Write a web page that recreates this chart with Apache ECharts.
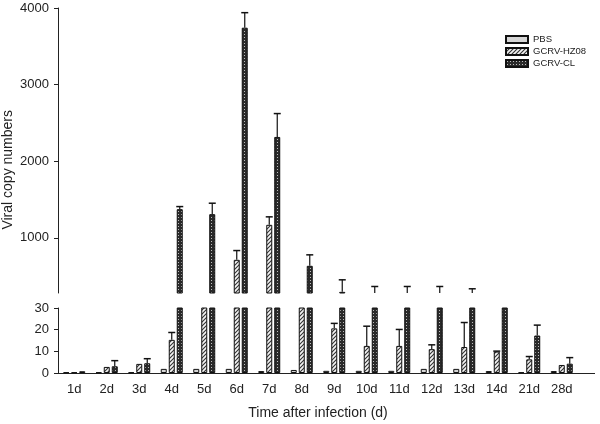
<!DOCTYPE html>
<html><head><meta charset="utf-8">
<script src="https://cdn.jsdelivr.net/npm/echarts@6/dist/echarts.min.js"></script>
<style>html,body{margin:0;padding:0;background:#fff}#c{width:600px;height:424px}</style>
</head><body><div id="c"></div>
<script>
const categories = ['1d','2d','3d','4d','5d','6d','7d','8d','9d','10d','11d','12d','13d','14d','21d','28d'];
const seriesNames = ['PBS','GCRV-HZ08','GCRV-CL'];
const pbsValues = [0.3,0.3,0.3,1.9,1.9,1.9,0.9,1.4,1.0,1.0,1.0,1.9,1.9,0.9,0.3,0.9];
const pbsErrors = [0,0,0,0,0,0,0,0,0,0,0,0,0,0,0,0];
const hzValues  = [0.3,2.8,4.2,15.3,150,713,1170,100,20.6,12.5,12.5,11,12,9.9,6.3,3.7];
const hzErrors  = [0,0,0,3.4,0,121,104,0,2.3,9.1,7.6,2,11.3,0.2,1.3,0];
const clValues  = [0.8,3.1,4.5,1374,1309,3743,2317,635,295,200,200,210,190,150,17.3,4.3];
const clErrors  = [0,2.6,2.1,34,143,196,305,143,157,165,165,155,145,0,4.8,2.8];
const upperTicks = [1000,2000,3000,4000];
const lowerTicks = [0,10,20,30];

function makePattern(kind){
  const c = document.createElement('canvas');
  if(kind==='hatch'){
    c.width=4;c.height=4;const g=c.getContext('2d');
    g.fillStyle='#f4f4f4';g.fillRect(0,0,4,4);
    g.strokeStyle='#333';g.lineWidth=1.1;
    g.beginPath();g.moveTo(0,4);g.lineTo(4,0);g.moveTo(-1,1);g.lineTo(1,-1);g.moveTo(3,5);g.lineTo(5,3);g.stroke();
  } else {
    c.width=3;c.height=3;const g=c.getContext('2d');
    g.fillStyle='#2a2a2a';g.fillRect(0,0,3,3);
    g.fillStyle='#bdbdbd';g.fillRect(1,1,1,1);
  }
  return {image:c, repeat:'repeat'};
}
const fills = ['#d6d6d6', makePattern('hatch'), makePattern('dots')];
const values = [pbsValues, hzValues, clValues];
const errors = [pbsErrors, hzErrors, clErrors];
const offsets = [-8, 0, 8];

const font = 'Liberation Sans';
const series = [];
[0,1].forEach(gi=>{
  for(let s=0;s<3;s++){
    series.push({
      name: seriesNames[s], type:'bar', xAxisIndex:gi, yAxisIndex:gi,
      barWidth:6, barGap:'33.33%', clip:true,
      itemStyle:{color:fills[s], borderColor:'#111', borderWidth:1},
      emphasis:{disabled:true},
      data: values[s]
    });
  }
  for(let s=0;s<3;s++){
    const off = offsets[s];
    series.push({
      type:'custom', xAxisIndex:gi, yAxisIndex:gi, clip:true, silent:true,
      data: values[s].map((v,i)=>[i, v, v+errors[s][i], errors[s][i]]),
      renderItem:(params, api)=>{
        if(api.value(3)<=0) return null;
        const p0 = api.coord([api.value(0), api.value(1)]);
        const p1 = api.coord([api.value(0), api.value(2)]);
        const x = p0[0]+off;
        return {type:'group', children:[
          {type:'line', shape:{x1:x,y1:p0[1],x2:x,y2:p1[1]}, style:{stroke:'#111',lineWidth:1.2}},
          {type:'line', shape:{x1:x-3.5,y1:p1[1],x2:x+3.5,y2:p1[1]}, style:{stroke:'#111',lineWidth:1.5}}
        ]};
      }
    });
  }
});

const plain = v => String(v);
const chart = echarts.init(document.getElementById('c'), null, {renderer:'canvas'});
chart.setOption({
  animation:false,
  backgroundColor:'#fff',
  textStyle:{fontFamily:font},
  legend:{
    orient:'vertical', left:500, top:29, itemWidth:22, itemHeight:7, itemGap:1,
    data:seriesNames, icon:'rect',
    textStyle:{fontFamily:font, fontSize:9.5, lineHeight:11, color:'#222', padding:[0,0,0,0]}
  },
  grid:[
    {left:58, right:22, top:8, height:285},
    {left:58, right:22, top:308, height:65}
  ],
  xAxis:[
    {type:'category', gridIndex:0, data:categories, show:false},
    {type:'category', gridIndex:1, data:categories,
     axisLine:{lineStyle:{color:'#222',width:1}},
     axisTick:{alignWithLabel:true, length:4, lineStyle:{color:'#222'}},
     axisLabel:{color:'#222', fontSize:13, fontFamily:font, margin:10},
     name:'Time after infection (d)', nameLocation:'middle', nameGap:33,
     nameTextStyle:{color:'#222', fontSize:14, fontFamily:font}}
  ],
  yAxis:[
    {type:'value', gridIndex:0, min:280, max:4000,
     axisLine:{show:true, lineStyle:{color:'#222'}},
     axisTick:{show:true, length:4, customValues:upperTicks, lineStyle:{color:'#222'}},
     axisLabel:{customValues:upperTicks, formatter:plain, color:'#222', fontSize:13, fontFamily:font, margin:9},
     splitLine:{show:false}},
    {type:'value', gridIndex:1, min:0, max:30, interval:10,
     axisLine:{show:true, lineStyle:{color:'#222'}},
     axisTick:{show:true, length:4, customValues:lowerTicks, lineStyle:{color:'#222'}},
     axisLabel:{customValues:lowerTicks, formatter:plain, color:'#222', fontSize:13, fontFamily:font, margin:9},
     splitLine:{show:false}}
  ],
  graphic:[
    {type:'text', left:1, top:110, rotation:Math.PI/2,
     style:{text:'Viral copy numbers', font:'14px "Liberation Sans"', fill:'#222'}},
    {type:'line', shape:{x1:578, y1:373.5, x2:595, y2:373.5}, style:{stroke:'#222', lineWidth:1}}
  ],
  series: series
});
</script></body></html>
